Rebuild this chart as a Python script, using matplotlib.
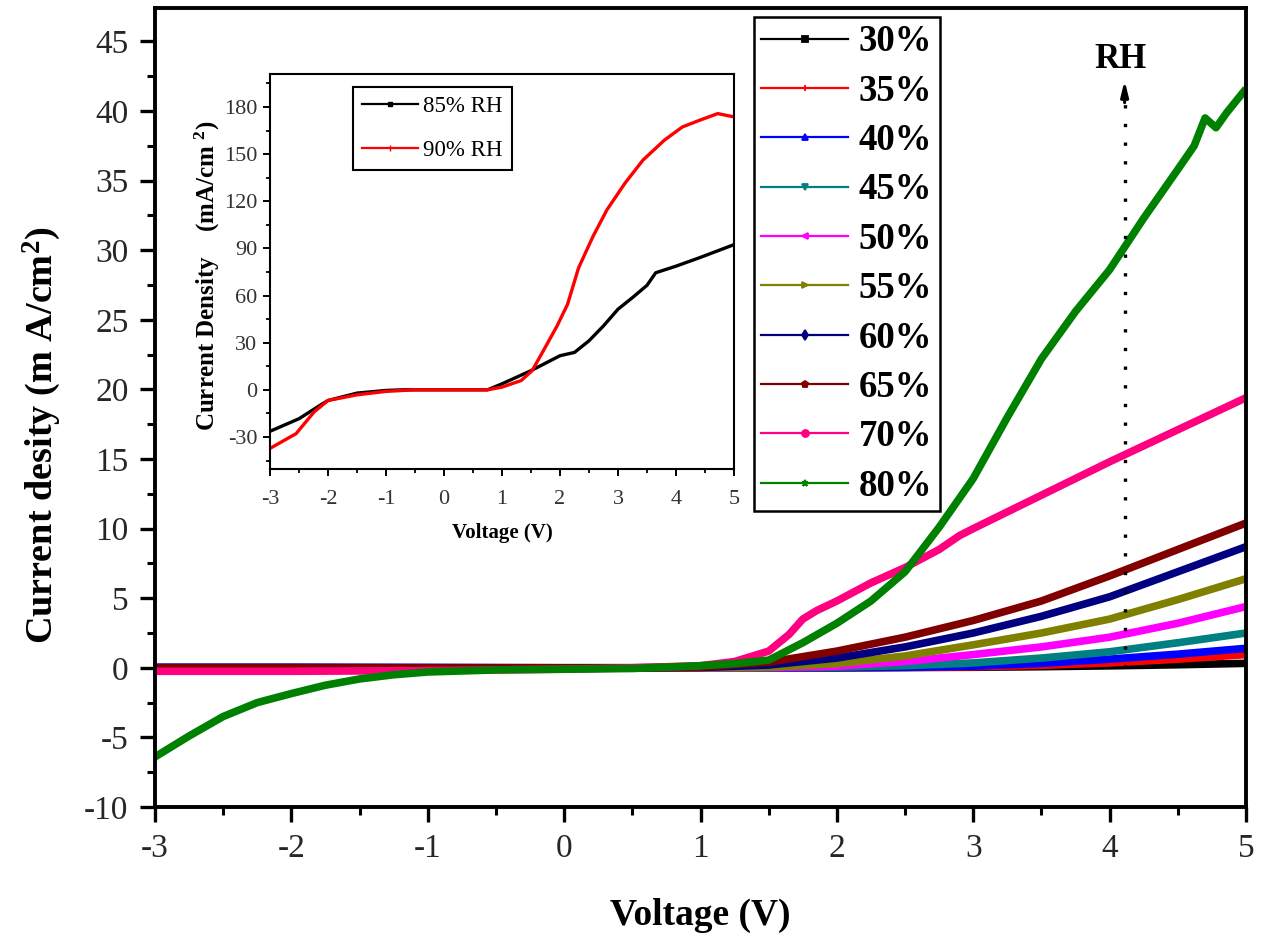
import matplotlib
matplotlib.use("Agg")
import matplotlib.pyplot as plt
from matplotlib.lines import Line2D
from matplotlib.ticker import MultipleLocator

plt.rcParams["font.family"] = ["Liberation Serif", "DejaVu Serif"]
plt.rcParams["mathtext.fontset"] = "custom"
plt.rcParams["mathtext.rm"] = "Liberation Serif"
plt.rcParams["mathtext.bf"] = "Liberation Serif:bold"
plt.rcParams["axes.unicode_minus"] = False

# main plot: current density (mA/cm2) vs voltage for each RH level
labels = ["30%", "35%", "40%", "45%", "50%", "55%", "60%", "65%", "70%", "80%"]
colors = ["#000000", "#FF0000", "#0000FF", "#008080", "#FF00FF",
          "#808000", "#000080", "#800000", "#FF0080", "#008000"]
markers = ["s", "|", "^", "v", "<", ">", "d", "p", "o", "*"]

v_base = [-3, -2, -1, 0, 0.5, 1.0, 1.5, 2.0, 2.5, 3.0, 3.5, 4.0, 4.5, 5.0]
j30 = [0, 0, 0, 0, 0, 0, 0, 0, 0.02, 0.04, 0.08, 0.14, 0.22, 0.32]
j35 = [0, 0, 0, 0, 0, 0, 0, 0.01, 0.03, 0.07, 0.18, 0.35, 0.62, 0.95]
j40 = [0.05, 0.05, 0.03, 0, 0, 0, 0, 0.01, 0.04, 0.12, 0.32, 0.62, 0.98, 1.4]
j45 = [0, 0, 0, 0, 0, 0, 0, 0.05, 0.15, 0.35, 0.7, 1.15, 1.8, 2.5]
j50 = [0, 0, 0, 0, 0, 0, 0.02, 0.12, 0.45, 0.95, 1.5, 2.2, 3.2, 4.4]
j55 = [0, 0, 0, 0, 0, 0, 0.05, 0.3, 0.85, 1.65, 2.5, 3.5, 4.9, 6.4]
j60 = [0, 0, 0, 0, 0, 0.02, 0.2, 0.7, 1.5, 2.5, 3.7, 5.1, 6.9, 8.7]
j65 = [0, 0, 0, 0, 0, 0.05, 0.4, 1.2, 2.2, 3.4, 4.8, 6.6, 8.5, 10.4]

v70 = [-3, -2, -1, 0, 0.5, 1.0, 1.25, 1.5, 1.65, 1.75, 1.85, 2.0, 2.25,
       2.5, 2.75, 2.9, 3.0, 3.5, 4.0, 4.5, 5.0]
j70 = [-0.25, -0.25, -0.2, -0.1, 0, 0.15, 0.45, 1.2, 2.4, 3.5, 4.1, 4.8, 6.1,
       7.2, 8.5, 9.5, 10.0, 12.4, 14.8, 17.1, 19.4]

v80 = [-3, -2.75, -2.5, -2.25, -2, -1.75, -1.5, -1.25, -1, -0.5, 0, 0.5, 1,
       1.25, 1.5, 1.75, 2, 2.25, 2.5, 2.75, 3, 3.25, 3.5, 3.75, 4, 4.25, 4.5,
       4.62, 4.7, 4.78, 4.86, 5]
j80 = [-6.4, -4.9, -3.5, -2.5, -1.85, -1.25, -0.8, -0.5, -0.3, -0.15, -0.1,
       -0.05, 0.15, 0.3, 0.55, 1.8, 3.2, 4.8, 6.9, 10.1, 13.6, 18.0, 22.2,
       25.6, 28.6, 32.3, 35.8, 37.5, 39.5, 38.8, 39.9, 41.6]

# inset: 85% and 90% RH
inset_labels = ["85% RH", "90% RH"]
v85 = [-3, -2.5, -2.1, -2.0, -1.5, -1.0, -0.7, 0, 0.75, 1.0, 1.5, 2.0, 2.25,
       2.5, 2.75, 3.0, 3.25, 3.5, 3.65, 4.0, 4.4, 5.0]
j85 = [-26.4, -18.4, -9, -6.8, -2.1, -0.4, 0, 0, 0, 3.8, 12.2, 21.7, 23.8,
       31.2, 40.7, 51.3, 58.7, 66.5, 74.5, 78.7, 84, 92.4]
v90 = [-3, -2.55, -2.24, -2.0, -1.5, -1.0, -0.5, 0, 0.75, 1.0, 1.33, 1.52,
       1.76, 1.95, 2.13, 2.32, 2.57, 2.81, 3.12, 3.43, 3.8, 4.11, 4.41, 4.72, 5.0]
j90 = [-37.3, -27.9, -14.1, -6.8, -3.2, -1.0, 0, 0, 0, 1.7, 5.9, 12.2, 28,
       40.7, 54.4, 77.6, 97.7, 114.6, 131.5, 146.2, 158.9, 167.3, 171.6, 175.8,
       173.7]

W, H = 1262, 939
fig = plt.figure(figsize=(W / 100, H / 100), dpi=100)
ax = fig.add_axes([155 / W, 1 - 807 / H, 1091 / W, 799 / H])

series = [(v_base, j30), (v_base, j35), (v_base, j40), (v_base, j45),
          (v_base, j50), (v_base, j55), (v_base, j60), (v_base, j65),
          (v70, j70), (v80, j80)]
for (v, j), c in zip(series, colors):
    ax.plot(v, j, color=c, lw=5.5, solid_capstyle="butt")

ax.set_xlim(-3, 5)
ax.set_ylim(-10, 47.4)
ax.xaxis.set_major_locator(MultipleLocator(1))
ax.xaxis.set_minor_locator(MultipleLocator(0.5))
ax.yaxis.set_major_locator(MultipleLocator(5))
ax.yaxis.set_minor_locator(MultipleLocator(2.5))
ax.tick_params(which="major", direction="out", length=11, width=2.4,
               labelsize=24, labelcolor="#262626", pad=8)
ax.tick_params(which="minor", direction="out", length=5.5, width=2.2)
for s in ax.spines.values():
    s.set_linewidth(2.8)

# RH arrow
ax.plot([4.11, 4.11], [0, 40.8], color="k", lw=2.4, ls=(0, (1, 4.6)))
ax.annotate("", xy=(4.11, 42.4), xytext=(4.11, 40.4),
            arrowprops=dict(arrowstyle="-|>,head_length=0.9,head_width=0.22",
                            color="k", lw=2.2))
ax.text(4.08, 43.7, "RH", fontsize=25, fontweight="bold", ha="center",
        va="center")

handles = [Line2D([], [], color=c, lw=1.6, marker=m, ms=5, mew=1.3)
           for c, m in zip(colors, markers)]
leg = ax.legend(handles, labels, loc="upper left",
                bbox_to_anchor=(0.549, 0.9887), borderaxespad=0,
                prop={"size": 26.5, "weight": "bold"}, numpoints=1,
                handlelength=2.35, handletextpad=0.3, labelspacing=0.39,
                borderpad=0.2, fancybox=False, framealpha=1, edgecolor="k")
leg.get_frame().set_linewidth(1.8)

fig.text(700 / W, 1 - 915 / H, "Voltage (V)", fontsize=27, fontweight="bold",
         ha="center", va="center")
fig.text(42 / W, 1 - 435 / H, r"Current desity (m A/cm$\mathbf{^2}$)",
         fontsize=27.5, fontweight="bold", rotation=90, ha="center",
         va="center")

# inset
axi = fig.add_axes([270 / W, 1 - 469 / H, 464 / W, 395 / H])
axi.plot(v85, j85, color="k", lw=2.4)
axi.plot(v90, j90, color="#FF0000", lw=2.4)
axi.set_xlim(-3, 5)
axi.set_ylim(-50.4, 201)
axi.xaxis.set_major_locator(MultipleLocator(1))
axi.xaxis.set_minor_locator(MultipleLocator(0.5))
axi.yaxis.set_major_locator(MultipleLocator(30))
axi.yaxis.set_minor_locator(MultipleLocator(15))
axi.tick_params(which="major", direction="out", length=5, width=1.4,
                labelsize=16, labelcolor="#333333", pad=4)
axi.tick_params(axis="x", which="major", pad=10)
axi.tick_params(which="minor", direction="out", length=3, width=1.3)
for s in axi.spines.values():
    s.set_linewidth(1.5)

ihandles = [Line2D([], [], color="k", lw=1.6, marker="s", ms=3.5),
            Line2D([], [], color="#FF0000", lw=1.6, marker="|", ms=4)]
ileg = axi.legend(ihandles, inset_labels, loc="upper left",
                  bbox_to_anchor=(0.179, 0.967), borderaxespad=0,
                  prop={"size": 16.5}, numpoints=1, handlelength=2.45,
                  handletextpad=0.2, labelspacing=1.0, borderpad=0.4,
                  fancybox=False, framealpha=1, edgecolor="k")
ileg.get_frame().set_linewidth(1.5)

fig.text(502 / W, 1 - 533 / H, "Voltage (V)", fontsize=15, fontweight="bold",
         ha="center", va="center")
fig.text(207 / W, 1 - 276 / H, r"Current Density    (mA/cm $\mathbf{^2}$)",
         fontsize=18, fontweight="bold", rotation=90, ha="center", va="center")

fig.savefig("out.png", dpi=100)
